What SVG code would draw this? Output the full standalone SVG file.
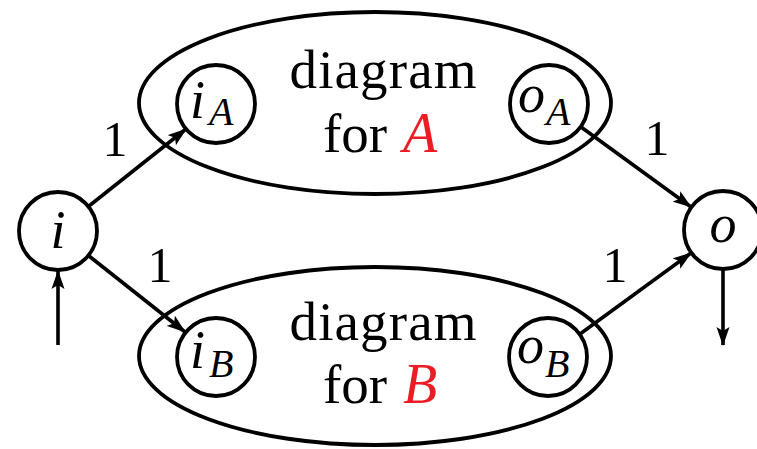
<svg xmlns="http://www.w3.org/2000/svg" width="757" height="449" viewBox="0 0 757 449" font-family="'Liberation Serif', 'DejaVu Serif', serif">
<style>
.n{fill:none;stroke:#000;stroke-width:3.8}
.e{fill:none;stroke:#000;stroke-width:3.6}
.t{font-family:'Liberation Serif','DejaVu Serif',serif;fill:#000}
.m{font-style:italic}
.r{fill:#ed1c24}
</style>
<defs>
<marker id="ah" markerUnits="userSpaceOnUse" markerWidth="20" markerHeight="14" refX="18" refY="7" orient="auto">
<path d="M0,0.5 L19,7 L0,13.5 L4,7 Z" fill="#000"/>
</marker>
</defs>
<rect width="757" height="449" fill="#fff"/>
<g id="ellipseA">
<ellipse class="n" cx="375" cy="103" rx="236" ry="91"/>
<text class="t" x="383" y="88" font-size="55" text-anchor="middle" textLength="187">diagram</text>
<text class="t" x="323" y="152" font-size="55">for</text>
<text class="t m r" x="403" y="152" font-size="56">A</text>
</g>
<g id="ellipseB">
<ellipse class="n" cx="375" cy="356" rx="236" ry="89"/>
<text class="t" x="383" y="340" font-size="55" text-anchor="middle" textLength="187">diagram</text>
<text class="t" x="323" y="403" font-size="55">for</text>
<text class="t m r" x="403" y="403" font-size="56">B</text>
</g>
<g id="i">
<circle class="n" cx="58" cy="231" r="39"/>
<text class="t m" x="58" y="248" font-size="54" text-anchor="middle">i</text>
</g>
<g id="o">
<circle class="n" cx="723" cy="230" r="39"/>
<text class="t m" x="723" y="242" font-size="54" text-anchor="middle">o</text>
</g>
<g id="iA">
<circle class="n" cx="216" cy="104" r="39"/>
<text class="t m" x="190" y="118" font-size="54">i</text>
<text class="t m" x="209" y="125" font-size="40">A</text>
</g>
<g id="oA">
<circle class="n" cx="549" cy="104" r="39"/>
<text class="t m" x="518" y="112" font-size="54">o</text>
<text class="t m" x="546" y="125" font-size="40">A</text>
</g>
<g id="iB">
<circle class="n" cx="216" cy="357" r="39"/>
<text class="t m" x="190" y="368" font-size="54">i</text>
<text class="t m" x="209" y="377" font-size="40">B</text>
</g>
<g id="oB">
<circle class="n" cx="548" cy="357" r="39"/>
<text class="t m" x="517" y="363" font-size="54">o</text>
<text class="t m" x="545" y="377" font-size="40">B</text>
</g>
<g id="connectors">
<line class="e" x1="58" y1="345" x2="58" y2="271" marker-end="url(#ah)"/>
<line class="e" x1="723" y1="269" x2="723" y2="345" marker-end="url(#ah)"/>
<line class="e" x1="89" y1="206" x2="186" y2="129" marker-end="url(#ah)"/>
<line class="e" x1="89" y1="256" x2="185" y2="332" marker-end="url(#ah)"/>
<line class="e" x1="581" y1="127" x2="691" y2="207" marker-end="url(#ah)"/>
<line class="e" x1="580" y1="334" x2="691" y2="253" marker-end="url(#ah)"/>
<text class="t" x="115" y="156" font-size="50" text-anchor="middle">1</text>
<text class="t" x="160" y="282" font-size="50" text-anchor="middle">1</text>
<text class="t" x="657" y="155" font-size="50" text-anchor="middle">1</text>
<text class="t" x="615" y="282" font-size="50" text-anchor="middle">1</text>
</g>
</svg>
